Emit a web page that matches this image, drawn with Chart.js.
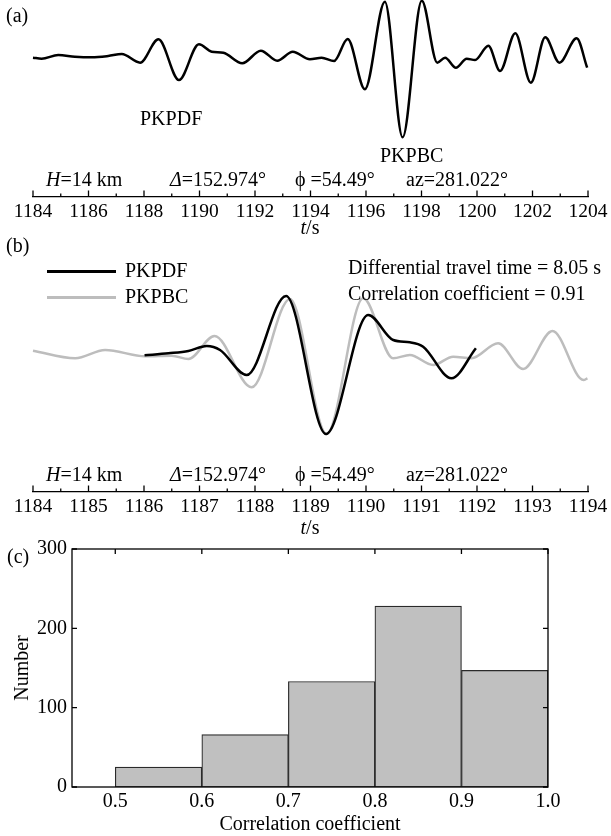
<!DOCTYPE html>
<html>
<head>
<meta charset="utf-8">
<script src="https://cdn.jsdelivr.net/npm/chart.js@4.4.1/dist/chart.umd.min.js"></script>
<style>
  html, body { margin: 0; padding: 0; background: #fff; }
  #fig { position: relative; width: 611px; height: 836px; overflow: hidden;
         font-family: "Liberation Serif", "Times New Roman", serif; color: #000; }
  #fig canvas { position: absolute; left: 0; top: 0; }
  .t { position: absolute; white-space: nowrap; font-size: 20px; line-height: 1; transform: translateY(-50%); }
  .c { transform: translate(-50%, -50%); }
  .ln { position: absolute; height: 2.5px; }
</style>
</head>
<body>
<div id="fig">
  <canvas id="pa" width="611" height="836"></canvas>
  <canvas id="pb" width="611" height="836"></canvas>
  <canvas id="pc" width="611" height="836"></canvas>

  <!-- panel (a) -->
  <div class="t" style="left:6px;top:15px">(a)</div>
  <div class="t" style="left:140px;top:118px">PKPDF</div>
  <div class="t" style="left:380px;top:155px">PKPBC</div>
  <div class="t" style="left:46px;top:179px"><i>H</i>=14 km</div>
  <div class="t" style="left:170px;top:179px"><i>Δ</i>=152.974°</div>
  <div class="t" style="left:295px;top:179px">ϕ =54.49°</div>
  <div class="t" style="left:406px;top:179px">az=281.022°</div>
  <div class="t c" style="left:310px;top:227px"><i>t</i>/s</div>

  <!-- panel (b) -->
  <div class="t" style="left:6px;top:245px">(b)</div>
  <div class="ln" style="left:47px;width:69px;top:270px;background:#000"></div>
  <div class="ln" style="left:47px;width:69px;top:296px;background:#bdbdbd"></div>
  <div class="t" style="left:125px;top:270px">PKPDF</div>
  <div class="t" style="left:125px;top:296px">PKPBC</div>
  <div class="t" style="left:348px;top:267px">Differential travel time = 8.05 s</div>
  <div class="t" style="left:348px;top:293px">Correlation coefficient = 0.91</div>
  <div class="t" style="left:46px;top:474px"><i>H</i>=14 km</div>
  <div class="t" style="left:170px;top:474px"><i>Δ</i>=152.974°</div>
  <div class="t" style="left:295px;top:474px">ϕ =54.49°</div>
  <div class="t" style="left:406px;top:474px">az=281.022°</div>
  <div class="t c" style="left:310px;top:527px"><i>t</i>/s</div>

  <!-- panel (c) -->
  <div class="t" style="left:7px;top:556px">(c)</div>
  <div class="t c" style="left:21px;top:668px;transform:translate(-50%,-50%) rotate(-90deg)">Number</div>
  <div class="t c" style="left:310px;top:823px">Correlation coefficient</div>
</div>

<script>
// Panel (a): full record, time (s) and relative amplitude
const recordTime = [1184.00, 1184.31, 1184.91, 1185.51, 1186.12, 1186.71, 1187.20, 1187.86, 1188.52, 1189.26,
                    1189.98, 1190.44, 1190.86, 1191.54, 1192.21, 1192.80, 1193.36, 1193.98, 1194.40, 1194.85,
                    1195.34, 1195.96, 1196.68, 1197.32, 1198.01, 1198.57, 1198.85, 1199.24, 1199.63, 1199.93,
                    1200.41, 1200.83, 1201.38, 1201.94, 1202.46, 1202.97, 1203.59, 1203.97];
const recordAmp  = [0.3, -0.7, 3, 1.3, 0.7, 2, 4, -4.7, 18.7, -22,
                    13.7, 6.3, 5.3, -5.3, 7.3, -2.7, 6.3, -1.3, 0.3, -3,
                    19, -31.3, 56.3, -79.3, 57.3, -4.7, 0.3, -9.7, -0.7, -2,
                    12.3, -13, 24.7, -24.7, 20.7, -4.7, 19.7, -9.7];
const recordMajorTicks = [1184, 1186, 1188, 1190, 1192, 1194, 1196, 1198, 1200, 1202, 1204];

// Panel (b): aligned PKPDF (shifted) and PKPBC phases
const pkpdfTime = [1186.01, 1186.44, 1186.80, 1187.13, 1187.37, 1187.85, 1188.56, 1189.28, 1190.04, 1190.49,
                   1190.79, 1191.03, 1191.54, 1191.98];
const pkpdfAmp  = [-5.3, -3.3, -1, 4, 0, -25, 54, -84, 35, 10,
                   7.7, 3.3, -28.3, 1.7];
const pkpbcTime = [1184.00, 1184.76, 1185.30, 1186.02, 1186.50, 1186.80, 1187.27, 1187.94, 1188.63, 1189.29,
                   1189.95, 1190.49, 1190.79, 1191.21, 1191.57, 1191.90, 1192.38, 1192.83, 1193.36, 1193.92,
                   1193.99];
const pkpbcAmp  = [-0.7, -8.3, 0, -6.3, -5.7, -9, 14, -37.3, 51, -84,
                   51.7, -8.3, -5, -15, -6.7, -8.3, 6.7, -19, 19, -30,
                   -28.3];

// Panel (c): histogram of correlation coefficients
const binStart = [0.5, 0.6, 0.7, 0.8, 0.9];
const binWidth = 0.1;
const binCount = [25, 66, 133, 228, 147];
const corrTicks = [0.5, 0.6, 0.7, 0.8, 0.9, 1.0];
const countTicks = [0, 100, 200, 300];

Chart.defaults.font.family = '"Liberation Serif", "Times New Roman", serif';
Chart.defaults.color = '#000';

const toPoints = (xs, ys) => xs.map((x, i) => ({ x: x, y: ys[i] }));

// tick marks drawn upward from the time axis (long = labelled, short = unlabelled)
const upTicks = {
  id: 'upTicks',
  afterDraw(chart) {
    const sx = chart.scales.x, ctx = chart.ctx, y0 = chart.chartArea.bottom;
    ctx.save();
    ctx.strokeStyle = '#000';
    ctx.lineWidth = 1.3;
    sx.ticks.forEach(t => {
      const px = sx.getPixelForValue(t.value);
      const len = t.label !== '' ? 6.5 : 3.5;
      ctx.beginPath();
      ctx.moveTo(px, y0);
      ctx.lineTo(px, y0 - len);
      ctx.stroke();
    });
    ctx.restore();
  }
};

function traceOptions(pad, yMin, yMax, step, isMajor) {
  return {
    responsive: false, animation: false, events: [],
    layout: { padding: pad },
    plugins: { legend: { display: false }, tooltip: { enabled: false } },
    scales: {
      x: {
        type: 'linear',
        min: pad.xMin, max: pad.xMax,
        afterFit: s => { s.height = 40; },
        grid: { display: false, drawTicks: false },
        border: { display: true, color: '#000', width: 1.3 },
        ticks: {
          stepSize: step, autoSkip: false, maxRotation: 0, padding: 3,
          font: { size: 19.5 }, color: '#000',
          callback: v => isMajor(v) ? String(v) : ''
        }
      },
      y: { display: false, min: yMin, max: yMax }
    }
  };
}

// (a) seismogram
new Chart(document.getElementById('pa'), {
  type: 'line',
  data: {
    datasets: [{
      data: toPoints(recordTime, recordAmp),
      borderColor: '#000', borderWidth: 2.5, pointRadius: 0,
      cubicInterpolationMode: 'monotone', clip: false
    }]
  },
  options: traceOptions({ left: 33, right: 23, top: 3, bottom: 599, xMin: 1184, xMax: 1204 },
                        -139, 55, 1, v => recordMajorTicks.includes(v)),
  plugins: [upTicks]
});

// (b) PKPDF over PKPBC
new Chart(document.getElementById('pb'), {
  type: 'line',
  data: {
    datasets: [{
      label: 'PKPDF',
      data: toPoints(pkpdfTime, pkpdfAmp),
      borderColor: '#000', borderWidth: 2.5, pointRadius: 0,
      cubicInterpolationMode: 'monotone', clip: false
    }, {
      label: 'PKPBC',
      data: toPoints(pkpbcTime, pkpbcAmp),
      borderColor: '#bdbdbd', borderWidth: 2.5, pointRadius: 0,
      cubicInterpolationMode: 'monotone', clip: false
    }]
  },
  options: traceOptions({ left: 33, right: 23, top: 240, bottom: 304, xMin: 1184, xMax: 1194 },
                        -142, 110, 0.5, v => Number.isInteger(v)),
  plugins: [upTicks]
});

// (c) framed histogram with inward ticks
const frameTicks = {
  id: 'frameTicks',
  afterDatasetsDraw(chart) {
    const { ctx, chartArea: a, scales: { x, y } } = chart;
    ctx.save();
    ctx.strokeStyle = '#000';
    ctx.lineWidth = 1.3;
    ctx.strokeRect(a.left, a.top, a.right - a.left, a.bottom - a.top);
    ctx.beginPath();
    corrTicks.forEach(v => {
      const px = x.getPixelForValue(v);
      ctx.moveTo(px, a.top); ctx.lineTo(px, a.top + 5);
    });
    countTicks.forEach(v => {
      const py = y.getPixelForValue(v);
      ctx.moveTo(a.left, py); ctx.lineTo(a.left + 5, py);
      ctx.moveTo(a.right, py); ctx.lineTo(a.right - 5, py);
    });
    ctx.stroke();
    ctx.restore();
  }
};

new Chart(document.getElementById('pc'), {
  type: 'bar',
  data: {
    datasets: [{
      data: binStart.map((s, i) => ({ x: s + binWidth / 2, y: binCount[i] })),
      backgroundColor: '#c0c0c0',
      borderColor: '#2a2a2a',
      borderWidth: 1.2,
      borderSkipped: false,
      barPercentage: 1.0,
      categoryPercentage: 1.0
    }]
  },
  options: {
    responsive: false, animation: false, events: [],
    layout: { padding: { left: 0, right: 63, top: 549, bottom: 19 } },
    plugins: { legend: { display: false }, tooltip: { enabled: false } },
    scales: {
      x: {
        type: 'linear', min: 0.45, max: 1.0, offset: false,
        afterBuildTicks: s => { s.ticks = corrTicks.map(v => ({ value: v })); },
        afterFit: s => { s.height = 30; },
        grid: { display: false, drawTicks: false, offset: false },
        border: { display: false },
        ticks: { padding: 3, font: { size: 20 }, color: '#000', callback: v => Number(v).toFixed(1) }
      },
      y: {
        min: 0, max: 300,
        afterBuildTicks: s => { s.ticks = countTicks.map(v => ({ value: v })); },
        afterFit: s => { s.width = 72; },
        grid: { display: false, drawTicks: false },
        border: { display: false },
        ticks: { padding: 5, font: { size: 20 }, color: '#000' }
      }
    }
  },
  plugins: [frameTicks]
});
</script>
</body>
</html>
